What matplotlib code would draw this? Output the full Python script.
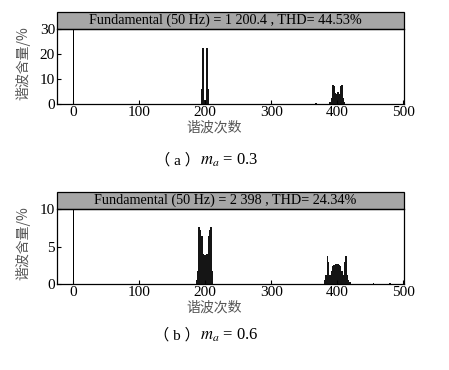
import numpy as np
import matplotlib.pyplot as plt
from matplotlib.patches import Rectangle

plt.rcParams['font.family'] = ['Liberation Serif', 'Noto Sans CJK SC']
plt.rcParams['mathtext.fontset'] = 'stix'

# harmonic spectra (order, content in %)
fund_a = 100.0
orders_a = [195, 197, 199, 201, 203, 205,
            368,
            389, 391, 393, 395, 397, 399, 401, 403, 405, 407, 409, 411]
values_a = [6.0, 22.3, 1.5, 1.5, 22.3, 6.0,
            0.3,
            0.8, 2.5, 7.6, 7.2, 4.2, 4.0, 4.8, 4.0, 7.2, 7.6, 2.5, 0.8]

fund_b = 100.0
orders_b = [187, 189, 191, 193, 195, 197, 199, 201, 203, 205, 207, 209, 211,
            381, 383, 385, 387, 389, 391, 393, 395, 397, 399, 401, 403,
            405, 407, 409, 411, 413, 415, 417, 419, 455, 480]
values_b = [0.5, 1.8, 7.6, 7.2, 6.4, 4.0, 3.9, 3.9, 4.0, 6.4, 7.2, 7.6, 1.8,
            0.6, 1.2, 3.8, 3.0, 1.2, 1.8, 2.4, 2.6, 2.7, 2.7, 2.7, 2.6,
            2.4, 1.8, 1.2, 3.0, 3.8, 1.2, 0.6, 0.3, 0.2, 0.2]

titles = ["Fundamental (50 Hz) = 1 200.4 , THD= 44.53%",
          "Fundamental (50 Hz) = 2 398 , THD= 24.34%"]
cap_letters = ["（ a ）", "（ b ）"]
cap_values = ["$m_a$ = 0.3", "$m_a$ = 0.6"]

fig = plt.figure(figsize=(4.49, 3.70), dpi=100)

panels = [
    (0.719, fund_a, orders_a, values_a, 30, [0, 10, 20, 30], 0.568, 2.6),
    (0.232, fund_b, orders_b, values_b, 10, [0, 5, 10], 0.095, 2.2),
]

for i, (bottom, fund, orders, values, ytop, yticks, cap_y, bw) in enumerate(panels):
    ax = fig.add_axes([0.127, bottom, 0.773, 0.203])
    ax.bar([1], [fund], width=1.4, color='black')
    ax.bar(orders, values, width=bw, color='#151515', linewidth=0)
    ax.set_xlim(-24, 501)
    ax.set_ylim(0, ytop)
    ax.set_xticks([0, 100, 200, 300, 400, 500])
    ax.set_yticks(yticks)
    ax.tick_params(direction='in', length=3, labelsize=11, pad=1.5)
    for s in ax.spines.values():
        s.set_linewidth(0.9)
    ax.set_xlabel("谐波次数", fontsize=10, color='#555555',
                  family=['Noto Sans CJK SC'])
    ax.xaxis.set_label_coords(0.452, -0.22)
    ax.set_ylabel("谐波含量/%", fontsize=10, color='#555555',
                  family=['Noto Sans CJK SC'])
    ax.yaxis.set_label_coords(-0.077, 0.54)

    # gray title bar above the plot area
    bar_h = 0.227
    ax.add_patch(Rectangle((0, 1), 1, bar_h, transform=ax.transAxes,
                           facecolor='#a6a6a6', edgecolor='black',
                           linewidth=0.9, clip_on=False))
    ax.text(0.485, 1 + bar_h / 2, titles[i], transform=ax.transAxes,
            ha='center', va='center', fontsize=10.2)

    fig.text(0.446, cap_y, cap_letters[i], ha='right', va='center',
             fontsize=11, family=['Liberation Serif', 'Noto Sans CJK SC'])
    fig.text(0.445, cap_y, cap_values[i], ha='left', va='center', fontsize=12)

fig.savefig('out.png', dpi=100)
